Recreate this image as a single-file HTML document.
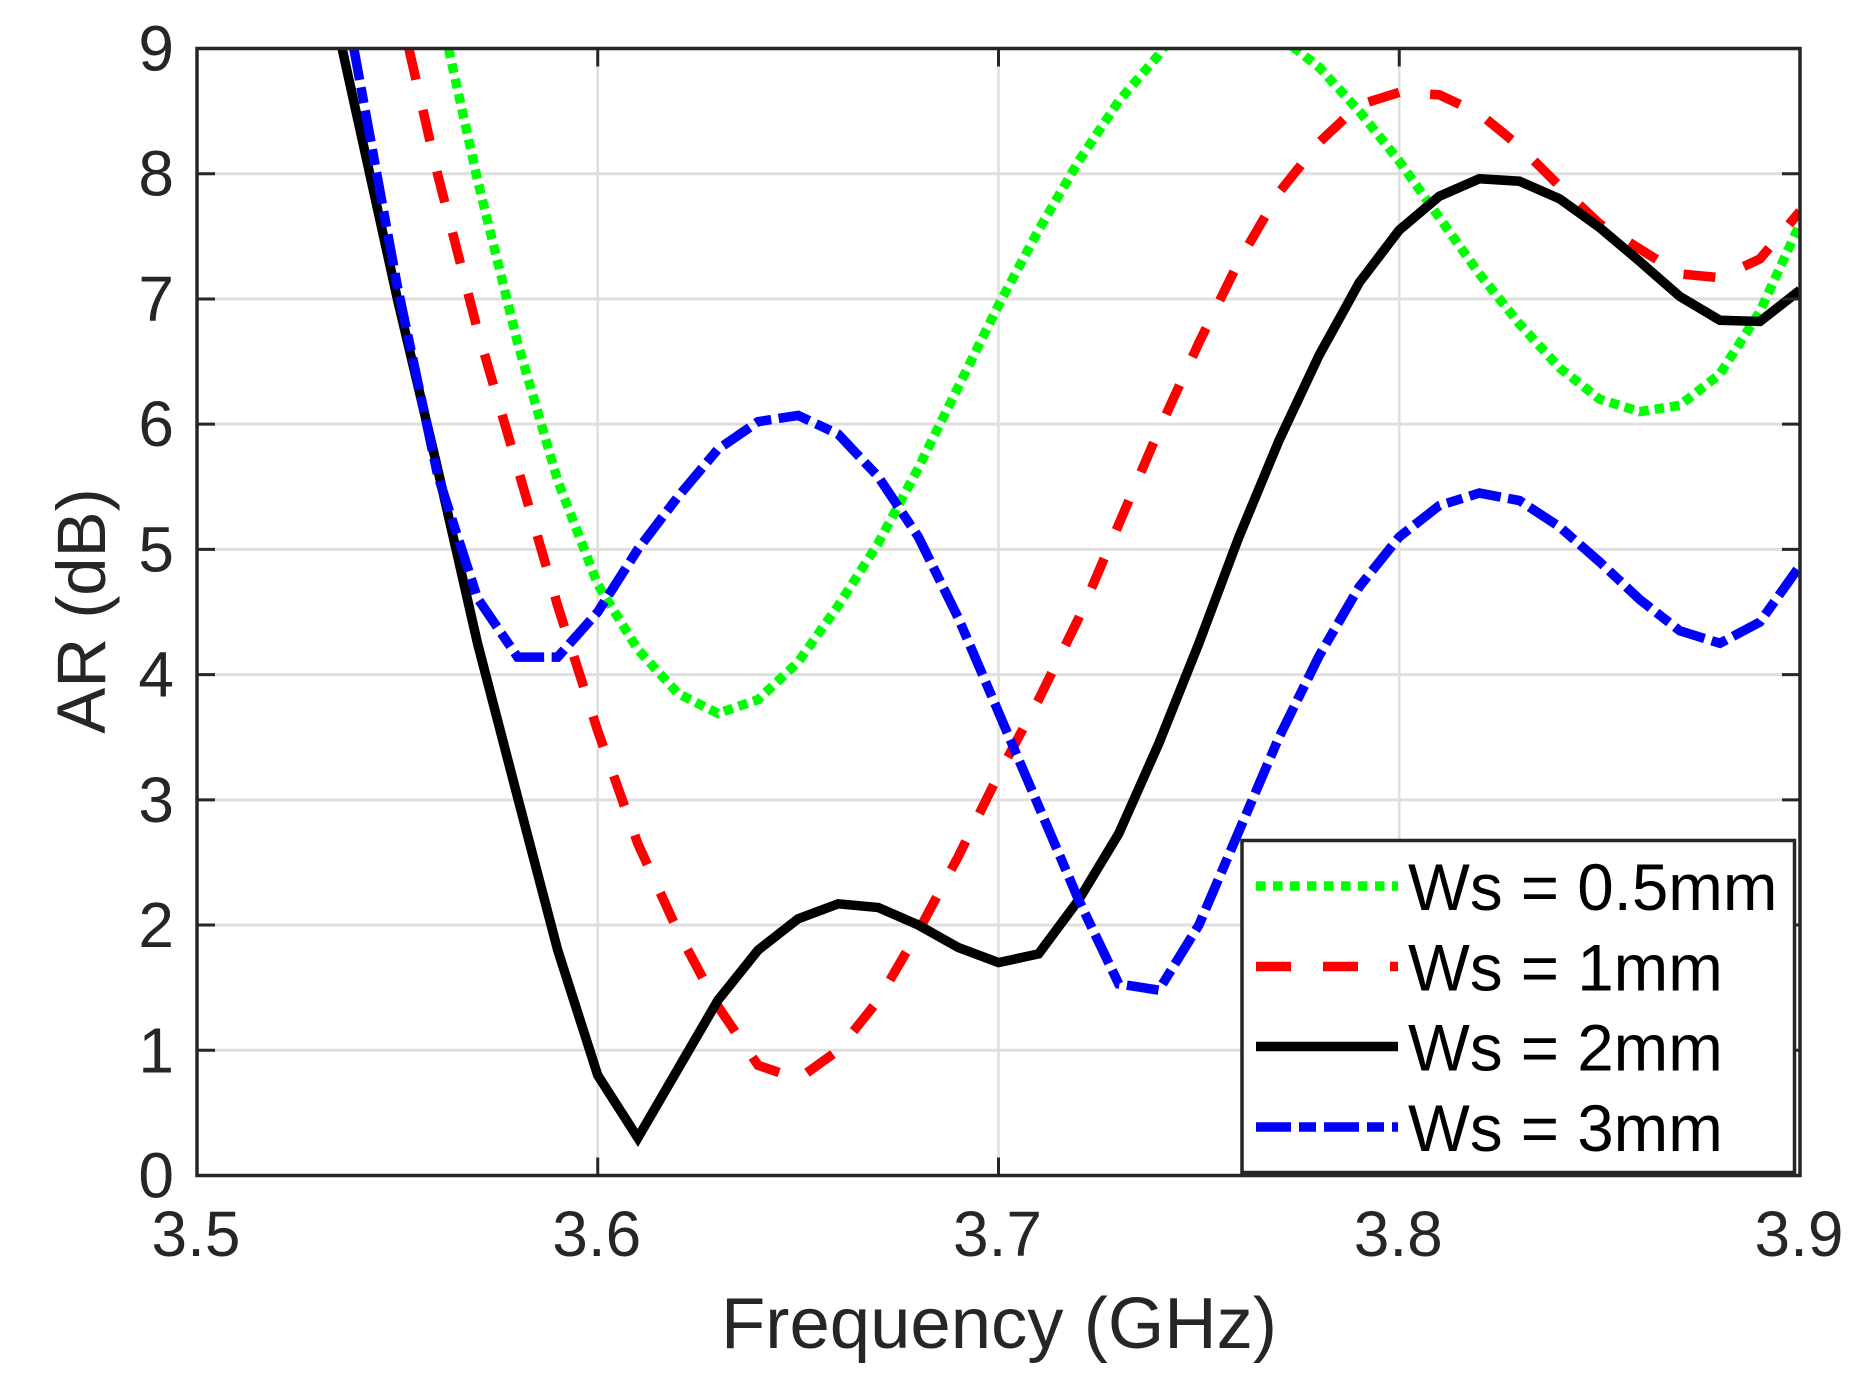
<!DOCTYPE html>
<html>
<head>
<meta charset="utf-8">
<title>AR vs Frequency</title>
<style>
html,body{margin:0;padding:0;background:#fff;width:1864px;height:1397px;overflow:hidden}
svg{display:block}
text{font-family:"Liberation Sans",sans-serif}
</style>
</head>
<body>
<svg id="chart" xmlns="http://www.w3.org/2000/svg" width="1864" height="1397" viewBox="0 0 1864 1397"></svg>
<script>
const frequencies = [3.50,3.51,3.52,3.53,3.54,3.55,3.56,3.57,3.58,3.59,3.60,3.61,3.62,3.63,3.64,3.65,3.66,3.67,3.68,3.69,3.70,3.71,3.72,3.73,3.74,3.75,3.76,3.77,3.78,3.79,3.80,3.81,3.82,3.83,3.84,3.85,3.86,3.87,3.88,3.89,3.90];
const ws05 = [16.5,15.2,13.8,12.4,11.2,11.0,9.4,7.95,6.65,5.55,4.72,4.2,3.85,3.69,3.8,4.1,4.55,5.05,5.65,6.3,6.95,7.55,8.1,8.58,8.95,9.4,9.6,9.1,8.85,8.5,8.1,7.65,7.2,6.8,6.45,6.2,6.1,6.15,6.4,6.9,7.6];
const ws1 = [15.5,14.2,12.9,11.7,10.6,9.4,8.0,6.75,5.65,4.55,3.55,2.65,1.95,1.35,0.88,0.77,1.0,1.4,1.95,2.55,3.2,3.8,4.45,5.2,5.95,6.65,7.3,7.85,8.25,8.55,8.65,8.63,8.48,8.22,7.9,7.6,7.4,7.2,7.17,7.32,7.7];
const ws2 = [14.6,13.0,11.4,9.9,8.45,7.0,5.65,4.25,3.02,1.8,0.8,0.3,0.85,1.4,1.8,2.05,2.17,2.14,2.0,1.82,1.7,1.77,2.2,2.73,3.45,4.25,5.1,5.87,6.55,7.13,7.55,7.82,7.96,7.94,7.8,7.57,7.3,7.02,6.83,6.82,7.07];
const ws3 = [15.6,13.9,12.2,10.6,8.85,7.1,5.6,4.61,4.14,4.14,4.5,5.0,5.42,5.8,6.02,6.07,5.92,5.58,5.1,4.45,3.7,2.95,2.2,1.53,1.48,2.0,2.75,3.5,4.15,4.7,5.1,5.35,5.45,5.39,5.18,4.9,4.6,4.35,4.25,4.42,4.87];
const xTicks = [3.5,3.6,3.7,3.8,3.9];
const yTicks = [0,1,2,3,4,5,6,7,8,9];
const legendLabels = ["Ws = 0.5mm","Ws = 1mm","Ws = 2mm","Ws = 3mm"];

const NS = "http://www.w3.org/2000/svg";
const svg = document.getElementById("chart");
const L = 197, R = 1800, T = 48.5, B = 1175.5;
const xMin = 3.5, xMax = 3.9, yMin = 0, yMax = 9;
function sx(f){ return L + (f - xMin) / (xMax - xMin) * (R - L); }
function sy(v){ return B - (v - yMin) / (yMax - yMin) * (B - T); }
function mk(tag, attrs, parent){
  const e = document.createElementNS(NS, tag);
  for (const k in attrs) e.setAttribute(k, attrs[k]);
  (parent || svg).appendChild(e);
  return e;
}
const AX = "#262626";

const defs = mk("defs", {});
const clip = mk("clipPath", {id:"plot-clip"}, defs);
mk("rect", {x:L, y:T, width:R-L, height:B-T}, clip);

const grid = mk("g", {});


xTicks.slice(1, -1).forEach(function(t){
  const g = mk("line", {x1:sx(t), x2:sx(t), y1:T, y2:B, stroke:"#dfdfdf", "stroke-width":2.5}, grid);
  
  
});
yTicks.slice(1, -1).forEach(function(t){
  const g = mk("line", {x1:L, x2:R, y1:sy(t), y2:sy(t), stroke:"#dfdfdf", "stroke-width":3}, grid);
  
  
});

const seriesGroup = mk("g", {"clip-path":"url(#plot-clip)"});


function lengthToTop(values){
  let len = 0;
  for (let i = 1; i < values.length; i++){
    const x0 = sx(frequencies[i-1]), y0 = sy(values[i-1]), x1 = sx(frequencies[i]), y1 = sy(values[i]);
    const seg = Math.hypot(x1-x0, y1-y0);
    if (values[i-1] > yMax && values[i] <= yMax){
      return len + seg * (values[i-1]-yMax) / (values[i-1]-values[i]);
    }
    len += seg;
  }
  return 0;
}
function drawSeries(values, color, dash, name){
  const d = values.map(function(v, i){ return sx(frequencies[i]).toFixed(2) + "," + sy(v).toFixed(2); }).join(" ");
  const p = mk("polyline", {points:d, fill:"none", stroke:color, "stroke-width":9.5, "stroke-dasharray":dash, "stroke-dashoffset":(-lengthToTop(values)).toFixed(1), "stroke-linejoin":"miter", "stroke-linecap":"butt"}, seriesGroup);
  
  
}
drawSeries(ws05, "#00ff00", "9.5 6", "series-ws-0-5mm");
drawSeries(ws1, "#ff0000", "32 31", "series-ws-1mm");
drawSeries(ws2, "#000000", "none", "series-ws-2mm");
drawSeries(ws3, "#0000ff", "32 7.5 16 7.5", "series-ws-3mm");

const axes = mk("g", {});


const box = mk("rect", {x:L, y:T, width:R-L, height:B-T, fill:"none", stroke:AX, "stroke-width":3.5}, axes);


xTicks.forEach(function(t){
  [[B, B-18],[T, T+18]].forEach(function(p){
    const k = mk("line", {x1:sx(t), x2:sx(t), y1:p[0], y2:p[1], stroke:AX, "stroke-width":3}, axes);
    
    
  });
  const lb = mk("text", {x:sx(t)-1, y:1256, "text-anchor":"middle", "font-size":64, fill:AX}, axes);
  lb.textContent = t.toFixed(1);
  
  
});
yTicks.forEach(function(t){
  [[L, L+18],[R, R-18]].forEach(function(p){
    const k = mk("line", {x1:p[0], x2:p[1], y1:sy(t), y2:sy(t), stroke:AX, "stroke-width":3}, axes);
    
    
  });
  const lb = mk("text", {x:174, y:sy(t)+22, "text-anchor":"end", "font-size":64, fill:AX}, axes);
  lb.textContent = String(t);
  
  
});

const xTitle = mk("text", {x:999, y:1348, "text-anchor":"middle", "font-size":72.5, fill:AX});
xTitle.textContent = "Frequency (GHz)";


const yTitle = mk("text", {x:0, y:0, transform:"translate(105 611) rotate(-90)", "text-anchor":"middle", "font-size":69, fill:AX});
yTitle.textContent = "AR (dB)";



const legend = mk("g", {});


const legendBox = mk("rect", {x:1242, y:840.5, width:552.5, height:332, fill:"#fff", stroke:AX, "stroke-width":3.5}, legend);


const legendColors = ["#00ff00","#ff0000","#000000","#0000ff"];
const legendDashes = ["9.5 7.5", "35 32", "none", "35 8 17 8"];
const legendRows = [886, 966.5, 1046.5, 1127];
legendLabels.forEach(function(s, i){
  const y = legendRows[i];
  const ln = mk("line", {x1:1256, x2:1398, y1:y, y2:y, stroke:legendColors[i], "stroke-width":9.5, "stroke-dasharray":legendDashes[i]}, legend);
  
  
  const tx = mk("text", {x:1408, y:y+24, "font-size":65.5, fill:"#000"}, legend);
  tx.textContent = s;
  
  
});
</script>
</body>
</html>
